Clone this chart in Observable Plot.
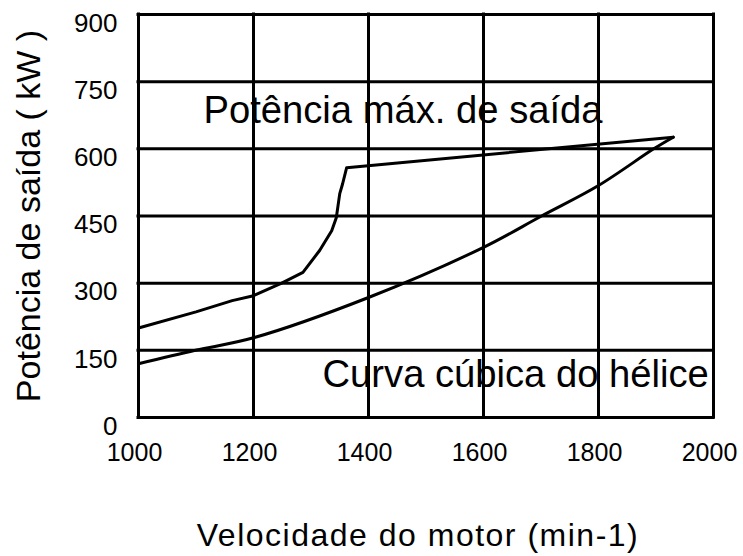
<!DOCTYPE html>
<html><head><meta charset="utf-8">
<script src="https://cdn.jsdelivr.net/npm/d3@7"></script>
<script src="https://cdn.jsdelivr.net/npm/@observablehq/plot@0.6"></script>
<style>body{margin:0;background:#fff}</style>
</head><body><div id="chart"></div>
<script>
const xTicks = [1000, 1200, 1400, 1600, 1800, 2000];
const yTicks = [0, 150, 300, 450, 600, 750, 900];
const speedMax = [1000, 1100, 1163, 1200, 1249, 1286, 1315, 1336, 1344, 1350, 1355, 1362, 1930];
const powerMax = [200, 236, 261, 272, 300, 324, 373, 417, 446, 500, 522, 558, 626];
const speedCubic = [1000, 1099, 1200, 1400, 1600, 1701, 1800, 1896, 1930];
const powerCubic = [120, 150, 178, 268, 380, 450, 518, 600, 626];
const labelTexts = ["Potência máx. de saída", "Curva cúbica do hélice"];
const labelSpeeds = [1113, 1320];
const labelPowers = [686, 96];
const xTitle = "Velocidade do motor (min-1)";
const yTitle = "Potência de saída ( kW )";

const maxData = speedMax.map((s, i) => ({speed: s, power: powerMax[i]}));
const cubicData = speedCubic.map((s, i) => ({speed: s, power: powerCubic[i]}));
const labels = labelTexts.map((t, i) => ({text: t, speed: labelSpeeds[i], power: labelPowers[i]}));

const chart = Plot.plot({
  width: 743, height: 556,
  marginLeft: 138, marginRight: 30, marginTop: 14, marginBottom: 139,
  style: {fontFamily: "'Liberation Sans', Arial, sans-serif", background: "#fff", color: "#000"},
  x: {domain: [1000, 2000]},
  y: {domain: [0, 900]},
  marks: [
    Plot.ruleX(xTicks, {stroke: "#000", strokeWidth: 3, strokeLinecap: "square"}),
    Plot.ruleY(yTicks, {stroke: "#000", strokeWidth: 3, strokeLinecap: "square"}),
    Plot.axisX(xTicks, {tickSize: 0, tickPadding: 26, fontSize: 25, dx: -4, label: null, fill: "#000", tickFormat: d => String(d)}),
    Plot.axisY(yTicks, {tickSize: 0, tickPadding: 21, fontSize: 26, dy: 9, label: null, fill: "#000", tickFormat: d => String(d)}),
    Plot.line(maxData, {x: "speed", y: "power", stroke: "#000", strokeWidth: 3, strokeLinejoin: "round", curve: "linear"}),
    Plot.line(cubicData, {x: "speed", y: "power", stroke: "#000", strokeWidth: 3, strokeLinejoin: "round", curve: "catmull-rom"}),
    Plot.text(labels, {x: "speed", y: "power", text: "text", textAnchor: "start", fontSize: 38.2, fill: "#000"}),
    Plot.text([xTitle], {frameAnchor: "bottom", textAnchor: "middle", dy: 128, dx: -8, fontSize: 32, fill: "#000"}),
    Plot.text([yTitle], {frameAnchor: "left", textAnchor: "middle", dx: -109, rotate: -90, fontSize: 34, fill: "#000"})
  ]
});
chart.querySelectorAll("text").forEach(t => {
  if (t.textContent === xTitle) t.setAttribute("letter-spacing", "1.5");
});
document.getElementById("chart").appendChild(chart);
</script>
</body></html>
